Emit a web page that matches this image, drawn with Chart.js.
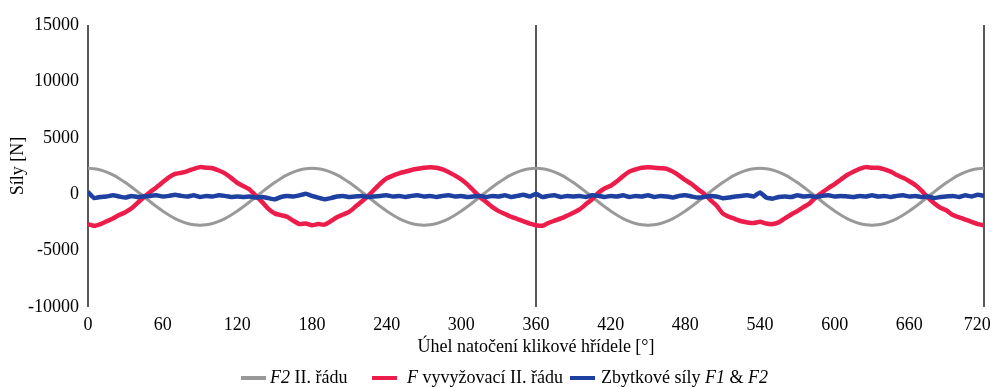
<!DOCTYPE html>
<html>
<head>
<meta charset="utf-8">
<script src="https://cdn.jsdelivr.net/npm/chart.js@4.4.1/dist/chart.umd.min.js"></script>
<style>
  html, body { margin: 0; padding: 0; background: #fff; }
  #wrap { position: relative; width: 993px; height: 387px; }
  #legend { position: absolute; top: 366px; left: 0; width: 993px; height: 22px;
            font-family: 'Liberation Serif', 'Times New Roman', serif; font-size: 18px; color: #000; }
  .item { position: absolute; top: 0; white-space: nowrap; line-height: 22px; }
  .sw { display: inline-block; width: 25px; height: 4px; vertical-align: middle; margin-right: 4px; position: relative; top: -1px; }
</style>
</head>
<body>
<div id="wrap">
  <canvas id="myForcesChart"></canvas>
  <div id="legend">
    <span class="item" style="left:241px"><span class="sw" style="background:#999999"></span><i>F2</i> II. řádu</span>
    <span class="item" style="left:372px"><span class="sw" style="background:#ec1c4b;margin-right:10px"></span><i>F</i> vyvyžovací II. řádu</span>
    <span class="item" style="left:570px"><span class="sw" style="background:#1e40a0;margin-right:6px"></span>Zbytkové síly <i>F1</i> &amp; <i>F2</i></span>
  </div>
</div>
<script>
// uhel natoceni [deg], krok 5
const angles = [
  0, 5, 10, 15, 20, 25, 30, 35, 40, 45, 50, 55,
  60, 65, 70, 75, 80, 85, 90, 95, 100, 105, 110, 115,
  120, 125, 130, 135, 140, 145, 150, 155, 160, 165, 170, 175,
  180, 185, 190, 195, 200, 205, 210, 215, 220, 225, 230, 235,
  240, 245, 250, 255, 260, 265, 270, 275, 280, 285, 290, 295,
  300, 305, 310, 315, 320, 325, 330, 335, 340, 345, 350, 355,
  360, 365, 370, 375, 380, 385, 390, 395, 400, 405, 410, 415,
  420, 425, 430, 435, 440, 445, 450, 455, 460, 465, 470, 475,
  480, 485, 490, 495, 500, 505, 510, 515, 520, 525, 530, 535,
  540, 545, 550, 555, 560, 565, 570, 575, 580, 585, 590, 595,
  600, 605, 610, 615, 620, 625, 630, 635, 640, 645, 650, 655,
  660, 665, 670, 675, 680, 685, 690, 695, 700, 705, 710, 715,
  720
]

// F2 II. radu [N]
const f2Values = [
  2300, 2260, 2150, 1960, 1710, 1400, 1040, 640, 210, -225, -665, -1090,
  -1490, -1850, -2160, -2410, -2600, -2710, -2750, -2710, -2600, -2410, -2160, -1850,
  -1490, -1090, -665, -225, 210, 640, 1040, 1400, 1710, 1960, 2150, 2260,
  2300, 2260, 2150, 1960, 1710, 1400, 1040, 640, 210, -225, -665, -1090,
  -1490, -1850, -2160, -2410, -2600, -2710, -2750, -2710, -2600, -2410, -2160, -1850,
  -1490, -1090, -665, -225, 210, 640, 1040, 1400, 1710, 1960, 2150, 2260,
  2300, 2260, 2150, 1960, 1710, 1400, 1040, 640, 210, -225, -665, -1090,
  -1490, -1850, -2160, -2410, -2600, -2710, -2750, -2710, -2600, -2410, -2160, -1850,
  -1490, -1090, -665, -225, 210, 640, 1040, 1400, 1710, 1960, 2150, 2260,
  2300, 2260, 2150, 1960, 1710, 1400, 1040, 640, 210, -225, -665, -1090,
  -1490, -1850, -2160, -2410, -2600, -2710, -2750, -2710, -2600, -2410, -2160, -1850,
  -1490, -1090, -665, -225, 210, 640, 1040, 1400, 1710, 1960, 2150, 2260,
  2300
]

// F vyvazovaci II. radu [N]
const fBalValues = [
  -2650, -2800, -2650, -2400, -2150, -1850, -1600, -1250, -750, -250, 200, 600,
  1050, 1500, 1800, 1900, 2050, 2250, 2400, 2350, 2300, 2100, 1850, 1450,
  1000, 700, 400, -150, -700, -1300, -1700, -1850, -2000, -2350, -2650, -2600,
  -2750, -2650, -2700, -2400, -2050, -1800, -1550, -1100, -650, -150, 400, 950,
  1400, 1650, 1850, 2000, 2150, 2250, 2350, 2400, 2350, 2200, 1950, 1650,
  1300, 850, 300, -250, -700, -1150, -1500, -1750, -2000, -2200, -2400, -2600,
  -2750, -2800, -2550, -2350, -2150, -1900, -1650, -1350, -900, -450, 100, 500,
  750, 1150, 1600, 2000, 2200, 2350, 2400, 2350, 2300, 2250, 2000, 1650,
  1250, 900, 450, 50, -500, -1000, -1700, -2000, -2200, -2400, -2500, -2550,
  -2450, -2600, -2650, -2500, -2150, -1800, -1500, -1150, -800, -250, 150, 550,
  900, 1300, 1700, 2000, 2250, 2400, 2350, 2350, 2200, 2000, 1700, 1450,
  1150, 800, 300, -300, -800, -1200, -1450, -1850, -2050, -2250, -2450, -2650,
  -2750
]

// zbytkove sily F1 & F2 [N]
const residualValues = [
  200, -350, -250, -200, -100, -200, -300, -150, -250, -200, -150, -100,
  -200, -150, -50, -150, -200, -100, -250, -150, -200, -100, -150, -250,
  -200, -250, -200, -300, -250, -350, -450, -250, -150, -200, -100, 50,
  -150, -300, -450, -350, -200, -150, -250, -200, -150, -250, -200, -150,
  -100, -200, -150, -250, -150, -100, -200, -150, -250, -150, -100, -200,
  -150, -250, -200, -150, -250, -150, -200, -100, -250, -150, -50, -200,
  50, -250, -150, -100, -250, -150, -200, -150, -250, -100, -150, -250,
  -150, -200, -100, -250, -150, -200, -100, -250, -150, -200, -300, -150,
  -100, -200, -300, -250, -150, -200, -350, -300, -200, -150, -100, -200,
  150, -300, -400, -250, -200, -250, -100, -200, -150, -250, -150, -100,
  -200, -150, -200, -250, -150, -200, -100, -200, -150, -250, -150, -100,
  -200, -150, -250, -200, -350, -250, -200, -150, -250, -100, -200, -50,
  -150
]

const xTitle = 'Úhel natočení klikové hřídele [°]'
const yTitle = 'Síly [N]'

const serif = "'Liberation Serif', 'Times New Roman', serif"

function toPoints( values ) {
  return angles.map( ( a, i ) => ( { x: a, y: values[ i ] } ) )
}

function lineSet( label, values, color, width, order, tension ) {
  return {
    label: label,
    data: toPoints( values ),
    borderColor: color,
    backgroundColor: color,
    borderWidth: width,
    pointRadius: 0,
    tension: tension,
    order: order
  }
}

new Chart( document.getElementById( 'myForcesChart' ), {
  type: 'line',
  data: {
    datasets: [
      lineSet( 'F2 II. řádu', f2Values, '#999999', 3, 2, 0.3 ),
      lineSet( 'F vyvyžovací II. řádu', fBalValues, '#ec1c4b', 4.5, 1, 0.2 ),
      lineSet( 'Zbytkové síly F1 & F2', residualValues, '#1e40a0', 4.5, 0, 0.1 )
    ]
  },
  options: {
    responsive: true,
    maintainAspectRatio: false,
    animation: false,
    layout: { padding: { top: 25, right: 9, bottom: 25, left: 0 } },
    plugins: {
      legend: { display: false },
      tooltip: { enabled: false }
    },
    scales: {
      x: {
        type: 'linear',
        min: 0,
        max: 720,
        ticks: {
          stepSize: 60,
          color: '#000',
          padding: 7,
          maxRotation: 0,
          font: { family: serif, size: 18 },
          // posledni popisek trochu doleva, aby se vesel
          callback: ( v ) => v === 720 ? '720   ' : String( v )
        },
        grid: {
          drawTicks: false,
          lineWidth: 2,
          color: ( c ) => ( c.tick && c.tick.value % 360 === 0 ) ? '#595959' : 'rgba(0,0,0,0)'
        },
        border: { display: false },
        title: { display: true, text: xTitle, color: '#000', padding: { top: 0, bottom: 4 }, font: { family: serif, size: 18 } },
        afterFit: ( s ) => { s.paddingLeft = 0; s.paddingRight = 0; s.height = 55 }
      },
      y: {
        min: -10000,
        max: 15000,
        ticks: {
          stepSize: 5000,
          color: '#000',
          padding: 9,
          font: { family: serif, size: 18 },
          callback: ( v ) => String( v )
        },
        grid: { display: false, drawTicks: false },
        border: { display: false },
        title: { display: true, text: yTitle, color: '#000', padding: { top: 7, bottom: 0 }, font: { family: serif, size: 18 } },
        afterFit: ( s ) => { s.width = 88 }
      }
    }
  }
} )
</script>
</body>
</html>
